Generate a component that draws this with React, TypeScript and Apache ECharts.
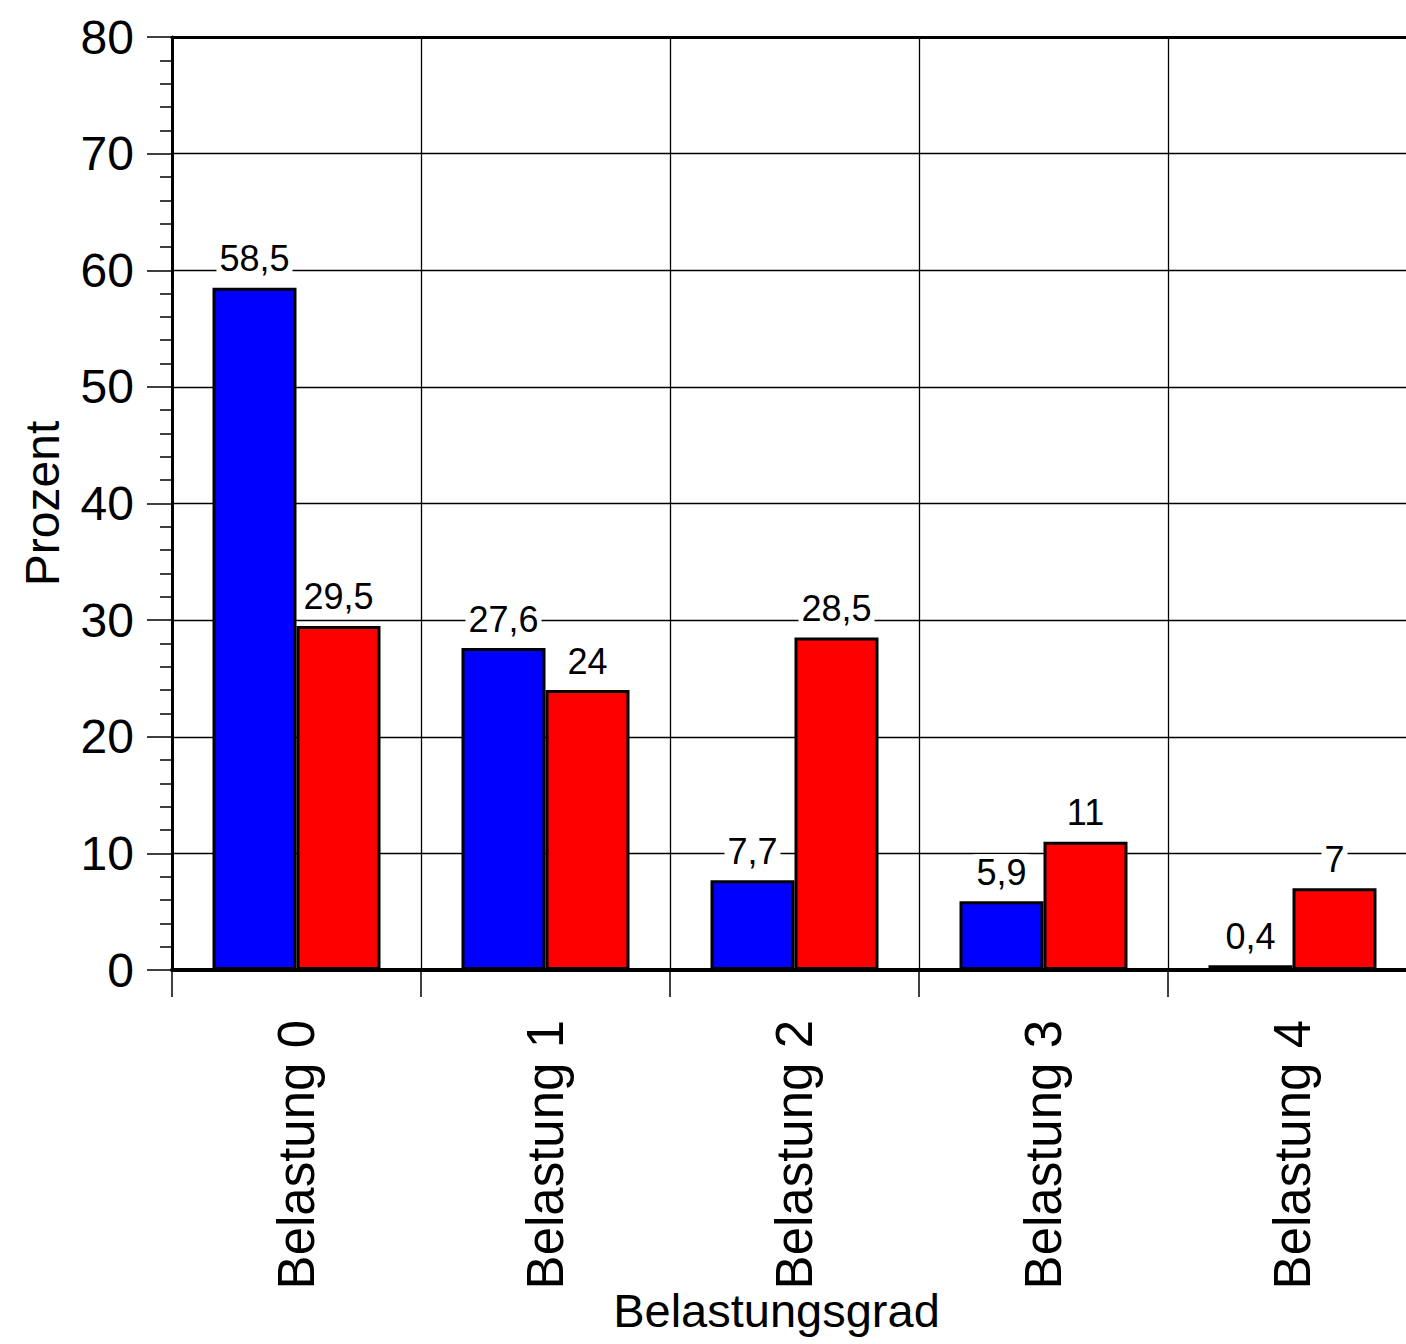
import React, { useEffect, useRef } from "react";
import * as echarts from "echarts";

const categories = ["Belastung 0", "Belastung 1", "Belastung 2", "Belastung 3", "Belastung 4"];
const blueValues = [58.5, 27.6, 7.7, 5.9, 0.4];
const redValues = [29.5, 24, 28.5, 11, 7];
const yMin = 0;
const yMax = 80;
const yInterval = 10;

const FONT = "'Liberation Sans', Arial, Helvetica, sans-serif";

const fmt = (v: number) => String(v).replace(".", ",");

export default function App() {
  const ref = useRef<HTMLDivElement>(null);
  useEffect(() => {
    if (!ref.current) return;
    const chart = echarts.init(ref.current, undefined, { renderer: "svg" });
    const label = {
      show: true,
      position: "top",
      distance: 11,
      fontFamily: FONT,
      fontSize: 36,
      color: "#000",
      backgroundColor: "#fff",
      padding: [0, 3, 0, 3],
      formatter: (p: any) => fmt(p.value),
    };
    chart.setOption({
      animation: false,
      backgroundColor: "#fff",
      textStyle: { fontFamily: FONT },
      grid: {
        left: 172,
        top: 37,
        right: -11,
        bottom: 374,
        containLabel: false,
        outerBoundsMode: "none",
      },
      xAxis: [
        {
          type: "category",
          data: categories,
          position: "bottom",
          boundaryGap: true,
          axisLine: { show: true, lineStyle: { color: "#000", width: 4 } },
          axisTick: { show: true, length: 27, lineStyle: { color: "#000", width: 1.5 } },
          splitLine: { show: true, lineStyle: { color: "#000", width: 1.3 } },
          axisLabel: {
            rotate: 90,
            fontSize: 51,
            color: "#000",
            fontFamily: FONT,
            margin: 50,
            interval: 0,
          },
          name: "Belastungsgrad",
          nameLocation: "middle",
          nameGap: 317,
          nameMoveOverlap: false,
          nameTextStyle: { fontSize: 47, color: "#000", fontFamily: FONT, padding: [0, 36, 0, 0] },
        },
        {
          type: "category",
          data: categories,
          position: "top",
          axisLine: { show: true, lineStyle: { color: "#000", width: 3 } },
          axisTick: { show: false },
          axisLabel: { show: false },
          splitLine: { show: false },
        },
      ],
      yAxis: {
        type: "value",
        min: yMin,
        max: yMax,
        interval: yInterval,
        axisLine: { show: true, lineStyle: { color: "#000", width: 3 } },
        axisTick: { show: true, length: 25, lineStyle: { color: "#000", width: 1.5 } },
        minorTick: { show: true, splitNumber: 5, length: 12, lineStyle: { color: "#000", width: 1.5 } },
        splitLine: { show: true, lineStyle: { color: "#000", width: 1.3 } },
        axisLabel: { fontSize: 48, color: "#000", fontFamily: FONT, margin: 38 },
        name: "Prozent",
        nameLocation: "middle",
        nameGap: 106,
        nameMoveOverlap: false,
        nameTextStyle: { fontSize: 48, color: "#000", fontFamily: FONT },
      },
      series: [
        {
          name: "Serie 1",
          type: "bar",
          data: blueValues,
          barWidth: 84,
          barGap: "0%",
          itemStyle: { color: "#0000ff", borderColor: "#000", borderWidth: 3 },
          label,
        },
        {
          name: "Serie 2",
          type: "bar",
          data: redValues,
          barWidth: 84,
          barGap: "0%",
          itemStyle: { color: "#ff0000", borderColor: "#000", borderWidth: 3 },
          label,
        },
      ],
    });
    return () => chart.dispose();
  }, []);
  return (
    <div
      ref={ref}
      style={{ position: "fixed", left: 0, top: 0, width: 1406, height: 1344, background: "#fff" }}
    />
  );
}
